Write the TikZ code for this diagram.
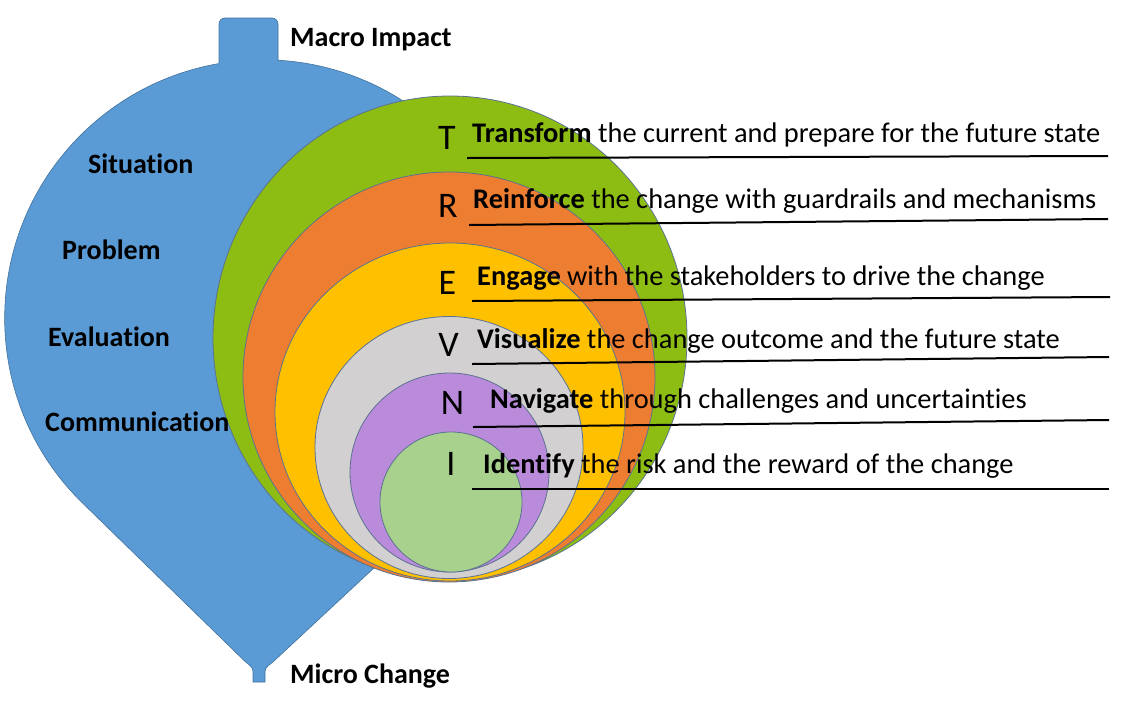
\documentclass[tikz,border=0pt]{standalone}
\usepackage{fontspec}
\setmainfont{Carlito}[Ligatures={NoCommon,NoContextual}]
\definecolor{cblue}{HTML}{5B9BD5}
\definecolor{cblueline}{HTML}{41719C}
\definecolor{cgreen}{HTML}{8DBD13}
\definecolor{corange}{HTML}{ED7D31}
\definecolor{cyellow}{HTML}{FFC000}
\definecolor{cgray}{HTML}{D2D0D0}
\definecolor{cpurple}{HTML}{BA8BDB}
\definecolor{clgreen}{HTML}{A9D18E}
\definecolor{ringline}{HTML}{5A7290}
\tikzset{
  ring/.style={draw=ringline, line width=0.8pt},
  sidelabel/.style={anchor=base west, inner sep=0pt, font=\fontsize{28}{30}\selectfont\bfseries},
  letter/.style={anchor=base, inner sep=0pt, font=\fontsize{36}{38}\selectfont},
  desc/.style={anchor=base west, inner sep=0pt, font=\fontsize{28.4}{30}\selectfont},
  uline/.style={draw=black, line width=2pt}
}
\begin{document}
\begin{tikzpicture}[x=1pt,y=-1pt]
\useasboundingbox (0,0) rectangle (1121,710);
% blue spinning-top body
\path[fill=cblue, draw=cblueline, line width=0.6pt]
  (253,682) -- (253,671) .. controls (253,667) and (248,664) .. (244.6,661)
  -- (82.6,503.1) arc[start angle=134.3, end angle=406.9, radius=258.4]
  -- (274,661) .. controls (271,664) and (265,667) .. (265,671)
  -- (265,682) -- cycle;
\fill[cblue, rounded corners=6pt] (219,85) -- (219,18) -- (278,18) -- (278,85) -- cycle;
\draw[cblueline, line width=0.6pt, rounded corners=6pt] (219,63) -- (219,18) -- (278,18) -- (278,61);
% nested rings
\path[ring, fill=cgreen]  (450,338) ellipse[x radius=237, y radius=242];
\path[ring, fill=corange] (449,377) ellipse[x radius=206, y radius=205];
\path[ring, fill=cyellow] (450,412) ellipse[x radius=175, y radius=169];
\path[ring, fill=cgray]   (449,447.5) ellipse[x radius=134, y radius=131];
\path[ring, fill=cpurple] (449.5,472.5) ellipse[x radius=99.5, y radius=99.5];
\path[ring, fill=clgreen] (451,502) ellipse[x radius=71, y radius=70];
% blue labels
\node[sidelabel] (macro) at (290,46) {Macro Impact};
\node[sidelabel] (micro) at (290,683) {Micro Change};
\node[sidelabel] (sit) at (88,173) {Situation};
\node[sidelabel] (prob) at (62,259) {Problem};
\node[sidelabel] (eval) at (48,346) {Evaluation};
\node[sidelabel] (comm) at (45,431) {Communication};
% letters
\node[letter] (lT) at (447,149) {T};
\node[letter] (lR) at (448,217) {R};
\node[letter] (lE) at (447.5,294) {E};
\node[letter] (lV) at (448.5,356) {V};
\node[letter] (lN) at (452.5,414) {N};
\node[letter] (lI) at (451,475) {I};
% descriptions
\node[desc] (dT) at (472,142) {\textbf{Transform} the current and prepare for the future state};
\node[desc] (dR) at (473,208) {\textbf{Reinforce} the change with guardrails and mechanisms};
\node[desc] (dE) at (477,285) {\textbf{Engage} with the stakeholders to drive the change};
\node[desc] (dV) at (477,348) {\textbf{Visualize} the change outcome and the future state};
\node[desc] (dN) at (490,408) {\textbf{Navigate} through challenges and uncertainties};
\node[desc] (dI) at (483,473) {\textbf{Identify} the risk and the reward of the change};
% underlines
\coordinate (tA) at (467,158);   \coordinate (tB) at (1108,156);
\coordinate (rA) at (469,225);   \coordinate (rB) at (1108,219);
\coordinate (eA) at (472,301);   \coordinate (eB) at (1110,297);
\coordinate (vA) at (472,364);   \coordinate (vB) at (1109,357);
\coordinate (nA) at (473,427);   \coordinate (nB) at (1109,420);
\coordinate (iA) at (472,489);   \coordinate (iB) at (1109,489);
\draw[uline] (tA) -- (tB);
\draw[uline] (rA) -- (rB);
\draw[uline] (eA) -- (eB);
\draw[uline] (vA) -- (vB);
\draw[uline] (nA) -- (nB);
\draw[uline] (iA) -- (iB);
\end{tikzpicture}
\end{document}
